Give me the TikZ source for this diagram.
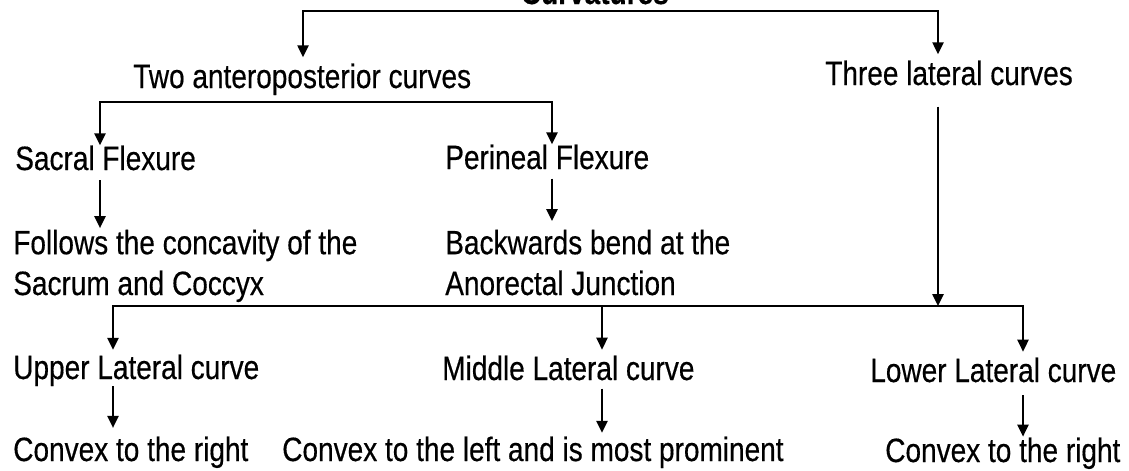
\documentclass[tikz,border=0pt]{standalone}
\usepackage{fontspec}
\setmainfont[FakeStretch=0.83,FakeBold=0.4]{Liberation Sans}
\usetikzlibrary{arrows.meta}

\tikzset{
  lbl/.style={inner sep=0pt, anchor=base west, font=\fontsize{24}{29}\selectfont},
  conn/.style={line width=1.2pt, >={Triangle[length=8.5pt,width=8pt]}},
}

\begin{document}
\begin{tikzpicture}[x=0.025cm,y=-0.025cm]
\useasboundingbox (0,0) rectangle (1129,470);
\clip (0,0) rectangle (1129,470);
\node[lbl, font=\fontsize{24}{29}\selectfont\bfseries] (curv) at (503,4){\textbullet{} Curvatures};
\node[lbl] (two) at (133,88){Two anteroposterior curves};
\node[lbl] (three) at (825,85){Three lateral curves};
\node[lbl] (sacral) at (15,170){Sacral Flexure};
\node[lbl] (perin) at (445,169){Perineal Flexure};
\node[lbl, align=left] (follows) at (13,295){Follows the concavity of the\\Sacrum and Coccyx};
\node[lbl, align=left] (backw) at (445,295){Backwards bend at the\\Anorectal Junction};
\node[lbl] (upper) at (13,379){Upper Lateral curve};
\node[lbl] (middle) at (442,380){Middle Lateral curve};
\node[lbl] (lower) at (870,382){Lower Lateral curve};
\node[lbl] (cvxa) at (13,461){Convex to the right};
\node[lbl] (cvxb) at (282,461){Convex to the left and is most prominent};
\node[lbl] (cvxc) at (885,462){Convex to the right};
%
\coordinate (tL) at (303,11);
\coordinate (tR) at (938,11);
\coordinate (aL) at (100,102);
\coordinate (aR) at (552,102);
\coordinate (bL) at (113,306);
\coordinate (bM) at (602,306);
\coordinate (bJ) at (938,306);
\coordinate (bR) at (1023,306);
%
\draw[conn,<->,shorten <=4.3pt,shorten >=4.3pt](two.north -| tL)--(tL)--(tR)--(three.north -| tR);
\draw[conn,<->](sacral.north -| aL)--(aL)--(aR)--(perin.north -| aR);
\draw[conn,->,shorten <=7pt,shorten >=1pt](sacral.south -| aL)--(follows.north -| aL);
\draw[conn,->,shorten <=6.4pt,shorten >=6pt](perin.south -| aR)--(backw.north -| aR);
\draw[conn,->,shorten <=15pt](three.south -| bJ)--(bJ);
\draw[conn,<->,shorten <=3.2pt,shorten >=4pt](upper.north -| bL)--(bL)--(bR)--(lower.north -| bR);
\draw[conn,->,shorten >=4pt](bM)--(middle.north -| bM);
\draw[conn,->,shorten >=6pt](upper.south -| bL)--(cvxa.north -| bL);
\draw[conn,->,shorten <=5.7pt,shorten >=2.5pt](middle.south -| bM)--(cvxb.north -| bM);
\draw[conn,->,shorten <=9pt,shorten >=0.5pt](lower.south -| bR)--(cvxc.north -| bR);

\end{tikzpicture}
\end{document}
